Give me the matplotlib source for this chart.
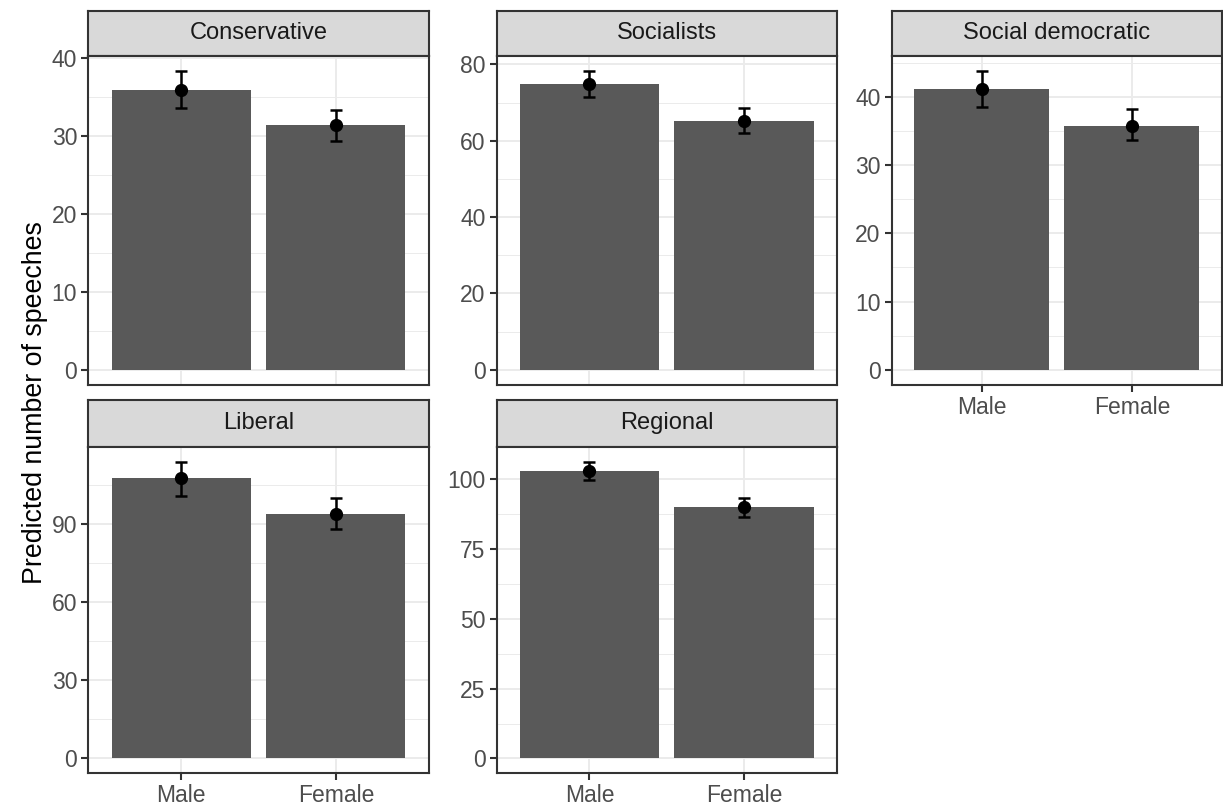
import matplotlib
matplotlib.use("Agg")
import matplotlib.pyplot as plt
from matplotlib.ticker import MultipleLocator

plt.rcParams['font.family'] = ['Liberation Sans', 'DejaVu Sans']

parties = ["Conservative", "Socialists", "Social democratic", "Liberal", "Regional"]
genders = ["Male", "Female"]

male_pred = [35.9, 74.8, 41.1, 107.8, 103.0]
male_low = [33.7, 71.5, 38.5, 101.1, 99.7]
male_high = [38.4, 78.3, 43.8, 114.2, 106.3]
female_pred = [31.4, 65.3, 35.8, 93.9, 89.9]
female_low = [29.4, 62.1, 33.7, 88.2, 86.6]
female_high = [33.4, 68.5, 38.2, 100.3, 93.1]

y_steps = [10, 20, 10, 30, 25]

W, H = 1223, 807
# panel boxes in pixels: left, right, strip top, panel top, panel bottom
cols = [(88.3, 428.7), (496.7, 836.7), (891.7, 1222.0)]
rows = [(10.7, 56.0, 384.7), (400.0, 446.7, 773.3)]

BAR = "#595959"
GRID = "#EBEBEB"
FRAME = "#333333"
TICKTXT = "#4D4D4D"

fig = plt.figure(figsize=(W / 100, H / 100), dpi=100)


def box(x0, x1, y0, y1):
    return [x0 / W, 1 - y1 / H, (x1 - x0) / W, (y1 - y0) / H]


for i, party in enumerate(parties):
    r, c = divmod(i, 3)
    x0, x1 = cols[c]
    st, pt, pb = rows[r]

    # strip
    sax = fig.add_axes(box(x0, x1, st, pt))
    sax.set_facecolor("#D9D9D9")
    sax.set_xticks([])
    sax.set_yticks([])
    for s in sax.spines.values():
        s.set_color(FRAME)
        s.set_linewidth(1.5)
    sax.text(0.5, 0.5, party, ha="center", va="center", fontsize=17,
             color="#1A1A1A", transform=sax.transAxes)

    ax = fig.add_axes(box(x0, x1, pt, pb))
    xs = [1, 2]
    preds = [male_pred[i], female_pred[i]]
    lows = [male_low[i], female_low[i]]
    highs = [male_high[i], female_high[i]]

    ax.bar(xs, preds, width=0.9, color=BAR, zorder=2)
    yerr = [[p - lo for p, lo in zip(preds, lows)],
            [hi - p for p, hi in zip(preds, highs)]]
    ax.errorbar(xs, preds, yerr=yerr, fmt="o", color="black", ms=8.5,
                elinewidth=1.8, capsize=4, capthick=1.8, zorder=3)

    top = max(highs)
    ax.set_ylim(-0.05 * top, top * 1.05)
    ax.set_xlim(0.4, 2.6)
    ax.yaxis.set_major_locator(MultipleLocator(y_steps[i]))
    ax.yaxis.set_minor_locator(MultipleLocator(y_steps[i] / 2))
    ax.set_xticks(xs)
    ax.grid(True, which="major", color=GRID, lw=1.4, zorder=0)
    ax.grid(True, which="minor", axis="y", color=GRID, lw=0.7, zorder=0)
    ax.set_axisbelow(True)
    for s in ax.spines.values():
        s.set_color(FRAME)
        s.set_linewidth(1.5)
    ax.tick_params(axis="both", which="major", length=5, width=1.5,
                   color=FRAME, labelcolor=TICKTXT, labelsize=16.5, pad=3)
    ax.tick_params(axis="y", which="minor", length=0)

    # x axis only where nothing sits below
    if r == 1 or c == 2:
        ax.set_xticklabels(genders)
    else:
        ax.tick_params(axis="x", length=0, labelbottom=False)

fig.text(35 / W, 1 - 403 / H, "Predicted number of speeches", rotation=90,
         ha="center", va="center", fontsize=19.3, color="black")

fig.savefig("out.png", dpi=100)
